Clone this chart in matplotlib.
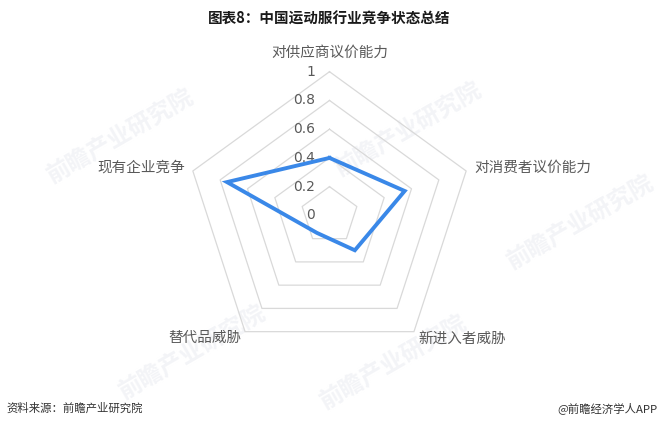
import numpy as np
from matplotlib import pyplot as plt

plt.rcParams['font.family'] = ['Noto Sans CJK SC', 'DejaVu Sans']

# data
categories = ['对供应商议价能力', '对消费者议价能力', '新进入者威胁', '替代品威胁', '现有企业竞争']
values = [0.4, 0.55, 0.3, 0.15, 0.75]
ring_levels = [0.2, 0.4, 0.6, 0.8, 1.0]
tick_labels = ['0', '0.2', '0.4', '0.6', '0.8', '1']

W, H = 660, 428
cx, cy, R = 329.5, 215.4, 143.7  # centre and radius in pixels

fig = plt.figure(figsize=(W / 100, H / 100), dpi=100)
ax = fig.add_axes([0, 0, 1, 1])
ax.set_xlim(-cx / R, (W - cx) / R)
ax.set_ylim(-(H - cy) / R, cy / R)
ax.axis('off')

n = len(categories)
ang = np.pi / 2 - np.arange(n) * 2 * np.pi / n
ang_c = np.append(ang, ang[0])

# faint watermarks
for wx, wy in [(-1.45, 0.55), (0.55, 0.6), (-0.95, -0.95), (1.75, -0.05), (0.45, -1.02)]:
    ax.text(wx, wy, '前瞻产业研究院', fontsize=17, color='#f3f4f7', rotation=30,
            ha='center', va='center', zorder=0, fontweight='bold')

# grid rings
for lv in ring_levels:
    ax.plot(lv * np.cos(ang_c), lv * np.sin(ang_c), color='#d9d9d9', lw=0.9, zorder=1)

# radial tick labels
for i, t in enumerate(tick_labels):
    ax.text(-0.1, i * 0.2, t, fontsize=10, color='#595959', ha='right', va='center',
            family=['DejaVu Sans'], zorder=2)

# data line
ax.plot(np.append(values, values[0]) * np.cos(ang_c), np.append(values, values[0]) * np.sin(ang_c),
        color='#3a88e8', lw=2.8, solid_joinstyle='miter', zorder=3)

# category labels
lab_pos = [((0, 1.13), 'center'), ((1.006, 0.33), 'left'), ((0.62, -0.855), 'left'),
           ((-0.615, -0.855), 'right'), ((-1.006, 0.33), 'right')]
for c, ((lx, ly), ha) in zip(categories, lab_pos):
    ax.text(lx, ly, c, fontsize=10.5, color='#595959', ha=ha, va='center')

fig.text(329.5 / W, 1 - 19 / H, '图表8：中国运动服行业竞争状态总结', fontsize=10.5,
         fontweight='bold', ha='center', va='center', color='#1a1a1a')
fig.text(6 / W, 1 - 408 / H, '资料来源：前瞻产业研究院', fontsize=8.2, ha='left',
         va='center', color='#333333')
fig.text(657 / W, 1 - 408 / H, '@前瞻经济学人APP', fontsize=8.2, ha='right',
         va='center', color='#333333')

fig.savefig('out.png', dpi=100)
